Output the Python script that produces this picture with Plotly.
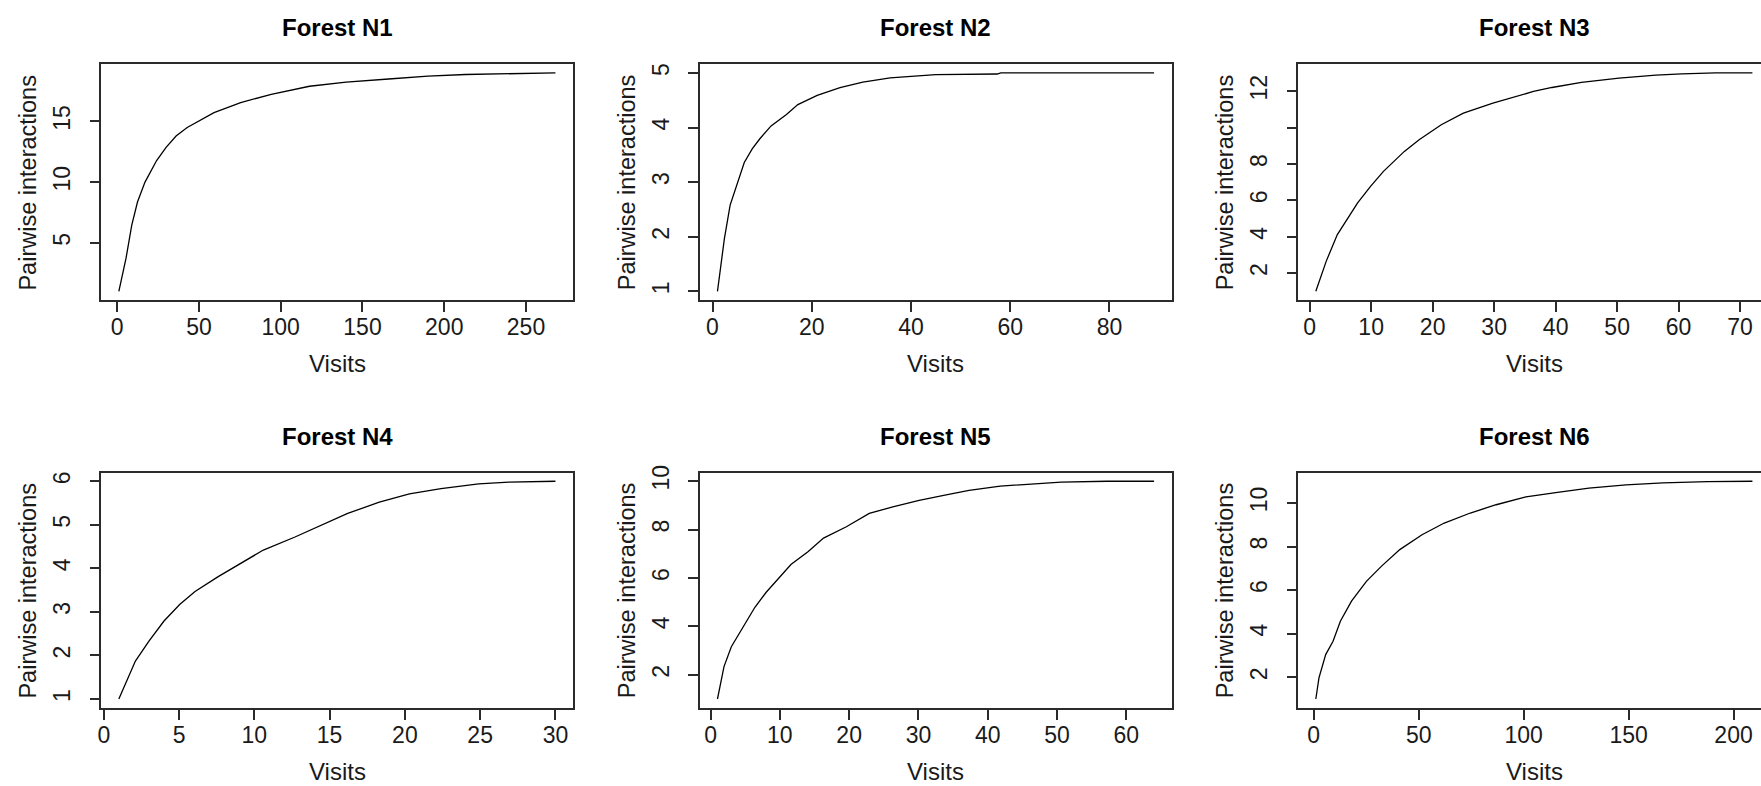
import plotly.graph_objects as go

# ---------------- data ----------------
titles = ["Forest N1", "Forest N2", "Forest N3", "Forest N4", "Forest N5", "Forest N6"]

n1_visits = [1, 5.4, 8.9, 12.4, 17, 24.1, 29.9, 36, 42.8, 49.8, 59.2, 75.5, 94.2, 117.6, 140, 166, 190, 213, 240, 268]
n1_pairs = [1, 3.73, 6.46, 8.36, 10.0, 11.78, 12.87, 13.8, 14.5, 15.05, 15.73, 16.55, 17.24, 17.9, 18.24, 18.5, 18.73, 18.87, 18.95, 19.0]

n2_visits = [1, 2.4, 3.55, 4.9, 6.4, 8.0, 9.5, 11.8, 14.9, 17.2, 21.1, 25.7, 30.3, 35.8, 39.6, 45, 57.4, 58.1, 89]
n2_pairs = [1, 1.97, 2.58, 2.94, 3.36, 3.61, 3.79, 4.03, 4.24, 4.42, 4.59, 4.73, 4.83, 4.91, 4.94, 4.97, 4.98, 5.0, 5.0]

n3_visits = [1, 2.7, 4.5, 6.3, 7.8, 9.9, 12.0, 15.4, 17.8, 21.4, 25.0, 29.8, 33.4, 36.4, 39.4, 44.2, 50.3, 56.3, 60.5, 66, 72]
n3_pairs = [1, 2.66, 4.12, 5.03, 5.86, 6.77, 7.59, 8.69, 9.33, 10.15, 10.79, 11.34, 11.71, 11.98, 12.2, 12.48, 12.71, 12.88, 12.95, 13.0, 13.0]

n4_visits = [1, 2.1, 3.0, 4.0, 5.04, 6.06, 7.6, 9.1, 10.6, 12.7, 14.7, 16.2, 18.3, 20.3, 22.4, 24.9, 26.9, 30]
n4_pairs = [1, 1.87, 2.33, 2.79, 3.17, 3.47, 3.81, 4.12, 4.42, 4.72, 5.03, 5.26, 5.52, 5.71, 5.83, 5.94, 5.98, 6.0]

n5_visits = [1, 1.94, 3.0, 4.7, 6.4, 8.0, 9.7, 11.6, 14.1, 16.3, 19.6, 22.9, 26.3, 30.1, 34.0, 37.3, 41.8, 46.2, 50.6, 57.2, 64]
n5_pairs = [1, 2.34, 3.16, 3.97, 4.79, 5.40, 5.95, 6.56, 7.10, 7.65, 8.12, 8.67, 8.94, 9.21, 9.44, 9.62, 9.80, 9.89, 9.96, 10.0, 10.0]

n6_visits = [1, 2.5, 5.7, 9.2, 12.7, 18.0, 25.1, 32.2, 41.0, 51.6, 62.2, 74.6, 86.9, 101.1, 117, 131.1, 148.8, 166.4, 187.6, 209]
n6_pairs = [1, 1.97, 3.04, 3.65, 4.57, 5.49, 6.40, 7.09, 7.86, 8.54, 9.08, 9.54, 9.92, 10.28, 10.5, 10.68, 10.83, 10.92, 10.98, 11.0]

visits = [n1_visits, n2_visits, n3_visits, n4_visits, n5_visits, n6_visits]
pairs = [n1_pairs, n2_pairs, n3_pairs, n4_pairs, n5_pairs, n6_pairs]

x_ticks = [
    [0, 50, 100, 150, 200, 250],
    [0, 20, 40, 60, 80],
    [0, 10, 20, 30, 40, 50, 60, 70],
    [0, 5, 10, 15, 20, 25, 30],
    [0, 10, 20, 30, 40, 50, 60],
    [0, 50, 100, 150, 200],
]
y_ticks = [
    [5, 10, 15],
    [1, 2, 3, 4, 5],
    [2, 4, 6, 8, 10, 12],
    [1, 2, 3, 4, 5, 6],
    [2, 4, 6, 8, 10],
    [2, 4, 6, 8, 10],
]
y_ticktext = [
    ["5", "10", "15"],
    ["1", "2", "3", "4", "5"],
    ["2", "4", "6", "8", "", "12"],
    ["1", "2", "3", "4", "5", "6"],
    ["2", "4", "6", "8", "10"],
    ["2", "4", "6", "8", "10"],
]

# ---------------- layout geometry ----------------
W, H = 1761, 786
col_left = [97.6, 697.6, 1297.3]
box_w = 472.6
row_top = [57.7, 469.7]
row_bot = [295.7, 707.0]
title_y = [21.0, 433.0]
xlab_y = [359.5, 771.0]
ylab_x = [24.5, 624.5, 1224.0]

FONT = "Liberation Sans, Arial, sans-serif"
INK = "#1a1a1a"
AX = "#2b2b2b"


def r_range(vals):
    lo, hi = min(vals), max(vals)
    ext = 0.04 * (hi - lo)
    return [lo - ext, hi + ext]


fig = go.Figure()
annotations = []

for i in range(6):
    r, c = divmod(i, 3)
    k = "" if i == 0 else str(i + 1)
    x0 = col_left[c]
    x1 = x0 + box_w
    xr = r_range(visits[i])
    clipped = x1 > W
    if clipped:
        frac = (W - x0) / box_w
        xr = [xr[0], xr[0] + (xr[1] - xr[0]) * frac]
        x1 = W
    yr = r_range(pairs[i])

    fig.add_trace(go.Scatter(
        x=visits[i], y=pairs[i], mode="lines",
        line=dict(color="black", width=1.3),
        xaxis="x" + k, yaxis="y" + k, showlegend=False, hoverinfo="x+y",
    ))

    common = dict(
        showgrid=False, zeroline=False, showline=True, linecolor=AX, linewidth=1.6,
        ticks="outside", ticklen=10, tickwidth=1.5, tickcolor=AX,
        tickfont=dict(family=FONT, size=23, color=INK),
    )
    fig.layout["xaxis" + k] = dict(
        common, domain=[x0 / W, x1 / W], range=xr, anchor="y" + k,
        tickmode="array", tickvals=x_ticks[i], mirror=True, ticklabelstandoff=-4,
    )
    fig.layout["yaxis" + k] = dict(
        common, domain=[1 - row_bot[r] / H, 1 - row_top[r] / H], range=yr, anchor="x" + k,
        tickmode="array", tickvals=y_ticks[i], ticktext=y_ticktext[i], tickangle=-90,
        mirror=(not clipped), ticklabelstandoff=10,
    )

    cx = (col_left[c] + box_w / 2) / W
    annotations.append(dict(
        text="<b>" + titles[i] + "</b>", x=cx, y=1 - title_y[r] / H, xref="paper", yref="paper",
        xanchor="center", yanchor="middle", showarrow=False,
        font=dict(family=FONT, size=24, color="black"),
    ))
    annotations.append(dict(
        text="Visits", x=cx, y=1 - xlab_y[r] / H, xref="paper", yref="paper",
        xanchor="center", yanchor="middle", showarrow=False,
        font=dict(family=FONT, size=24, color=INK),
    ))
    annotations.append(dict(
        text="Pairwise interactions", x=ylab_x[c] / W, y=1 - (row_top[r] + row_bot[r]) / 2 / H,
        xref="paper", yref="paper", xanchor="center", yanchor="middle", textangle=-90,
        showarrow=False, font=dict(family=FONT, size=23.5, color=INK),
    ))

fig.update_layout(
    width=W, height=H, margin=dict(l=0, r=0, t=0, b=0),
    paper_bgcolor="white", plot_bgcolor="white",
    annotations=annotations, showlegend=False,
)

fig.write_html(
    "out.html",
    config={"displayModeBar": False},
    post_script="document.body.style.margin='0';document.body.style.overflow='hidden';",
)
